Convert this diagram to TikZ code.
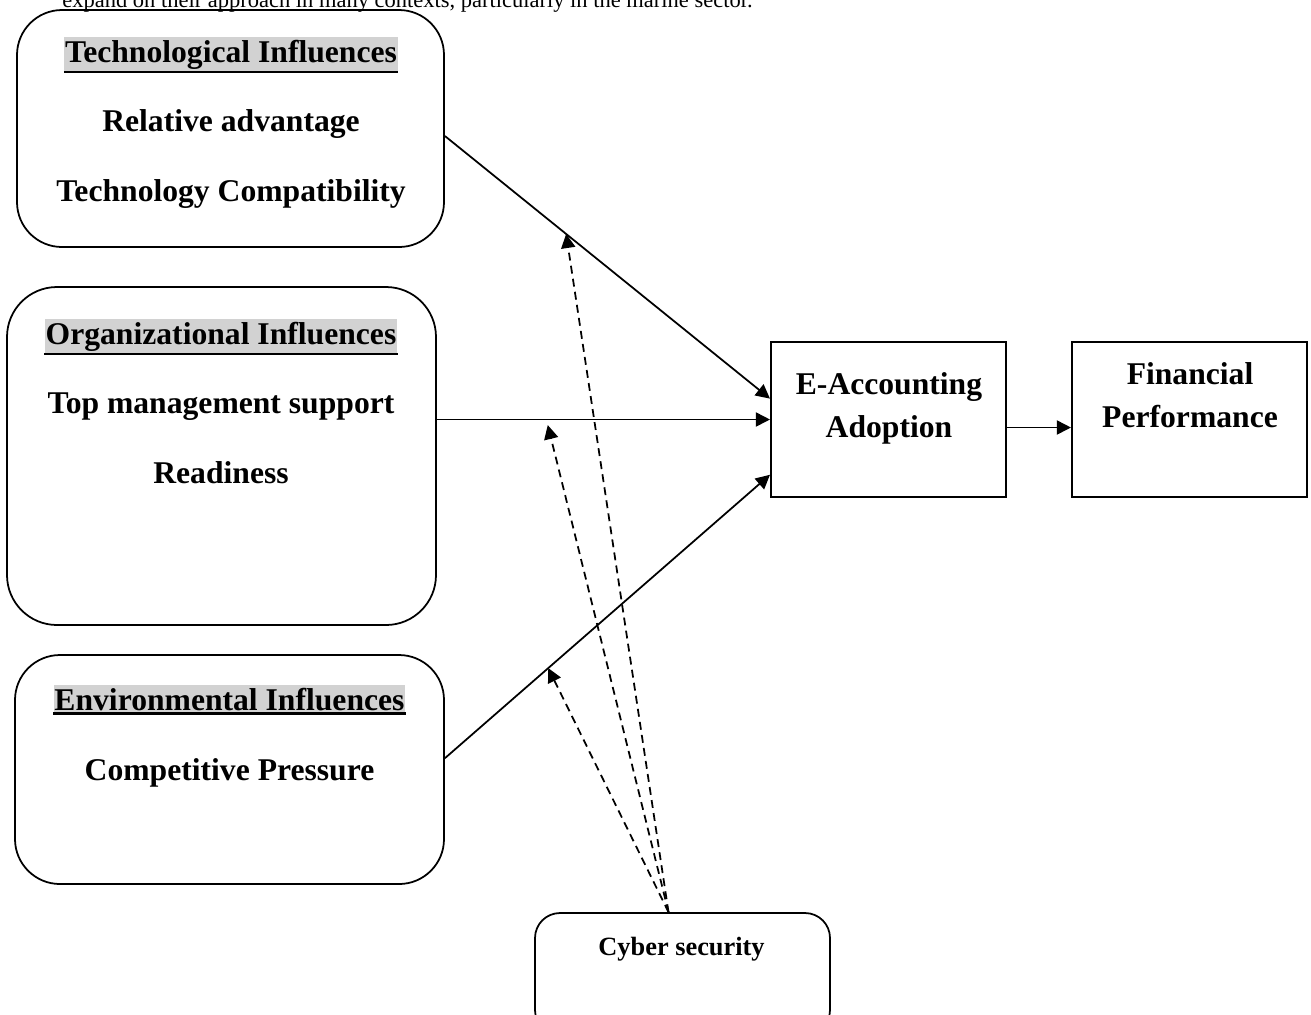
\documentclass[tikz,border=0pt]{standalone}
\usepackage{fontspec}
\setmainfont{Liberation Serif}
\usetikzlibrary{arrows.meta}

\begin{document}
\begin{tikzpicture}[
        factor/.style={draw, line width=1pt, rounded corners=0.9cm},
        stage/.style={draw, line width=1.2pt, minimum width=4.7cm, minimum height=3.1cm},
        heading/.style={fill=gray!35, inner xsep=0.5pt, inner ysep=1.5pt, anchor=base, font=\fontsize{18}{22}\selectfont\bfseries,
            append after command={(\tikzlastnode.south west) edge[line width=1.3pt] (\tikzlastnode.south east)}},
        item/.style={inner sep=0pt, anchor=base, align=center, font=\fontsize{18}{24}\selectfont\bfseries},
        flow/.style={-{Triangle[length=8pt,width=8pt]}, line width=1pt},
        moderate/.style={flow, dash pattern=on 4.5pt off 3pt}
    ]
    \useasboundingbox (0,0) rectangle (26.22,-20.28);

    % text of the page above the figure
    \node[anchor=base west, inner sep=0pt, font=\fontsize{12.8}{15}\selectfont] (intro) at (1.24,-0.14)
        {expand on their approach in many contexts, particularly in the marine sector.};

    \node (tech) at (4.61,-2.57) [factor, minimum width=8.54cm, minimum height=4.74cm] {};
    \node (org) at (4.43,-9.12) [factor, rounded corners=1cm, minimum width=8.58cm, minimum height=6.76cm] {};
    \node (env) at (4.59,-15.39) [factor, minimum width=8.58cm, minimum height=4.58cm] {};
    \node (cyber) at (13.65,-19.48) [factor, rounded corners=0.5cm, minimum width=5.9cm, minimum height=2.44cm] {};
    \node (eacc) at (17.77,-8.39) [stage] {};
    \node (fin) at (23.79,-8.39) [stage] {};

    \node (techtitle) at (4.62,-1.24) [heading] {Technological Influences};
    \node (reladv) at (4.62,-2.62) [item] {Relative advantage};
    \node (techcomp) at (4.62,-4.02) [item] {Technology Compatibility};

    \node (orgtitle) at (4.42,-6.88) [heading] {Organizational Influences};
    \node (topmgmt) at (4.42,-8.26) [item] {Top management support};
    \node (readiness) at (4.42,-9.66) [item] {Readiness};

    \node (envtitle) at (4.59,-14.20) [heading] {Environmental Influences};
    \node (comppress) at (4.59,-15.60) [item] {Competitive Pressure};

    \node (eacctext) at (17.78,-8.74) [item] {E-Accounting\\Adoption};
    \node (fintext) at (23.80,-8.54) [item] {Financial\\Performance};
    \node (cybertext) at (13.63,-19.10) [item, font=\fontsize{15}{18}\selectfont\bfseries] {Cyber security};

    \draw[flow] (tech.-2) -- coordinate[pos=0.373] (techmod) (eacc.170);
    \draw[flow] (org.east |- eacc.west) -- coordinate[pos=0.331] (orgmod) (eacc.west);
    \draw[flow] (env.3) -- coordinate[pos=0.318] (envmod) (eacc.205);
    \draw[flow] ([yshift=-1.6mm]eacc.east) -- ([yshift=-1.6mm]fin.west);

    \coordinate (cyberout) at ([xshift=-2.8mm]cyber.north);
    \draw[moderate] (cyberout) -- (techmod);
    \draw[moderate, shorten >=1.5pt] (cyberout) -- ([yshift=-0.6mm]orgmod);
    \draw[moderate] (cyberout) -- (envmod);
\end{tikzpicture}
\end{document}
